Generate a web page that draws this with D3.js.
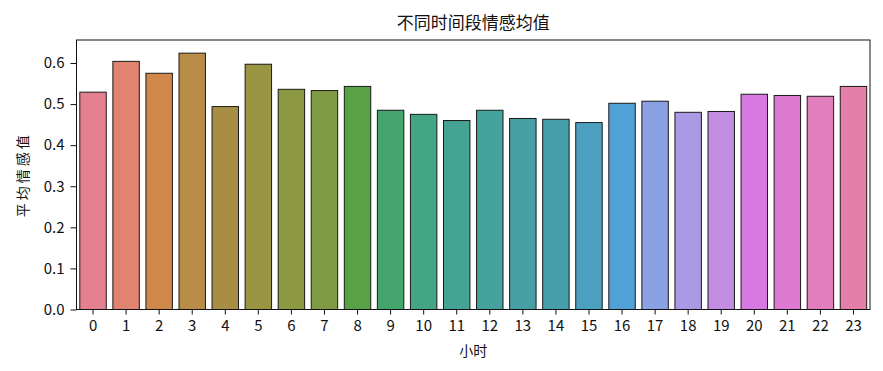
<!doctype html>
<html lang="zh">
<head>
<meta charset="utf-8">
<script src="https://d3js.org/d3.v7.min.js"></script>
<style>
  body { margin: 0; background: #fff; }
  text { font-family: "Noto Sans CJK SC", "DejaVu Sans", sans-serif; fill: #111; }
</style>
</head>
<body>
<div id="chart"></div>
<script>
// hours and mean sentiment per hour
var hours = d3.range(24).map(String);
var values = [0.529, 0.604, 0.575, 0.624, 0.494, 0.597, 0.536, 0.533, 0.543, 0.485, 0.475, 0.460,
              0.485, 0.465, 0.463, 0.455, 0.502, 0.507, 0.480, 0.482, 0.524, 0.521, 0.519, 0.543];
var colors = ["#e5808f", "#e28371", "#d0884a", "#b98c48", "#a88e45", "#9a9543", "#8d9843", "#7f9c44",
              "#58a245", "#43a46c", "#43a583", "#44a392", "#45a29c", "#46a0a4", "#479fac", "#4b9fbf",
              "#51a0d8", "#8aa1e4", "#aa9ae6", "#c18ce2", "#d879e2", "#df7ad2", "#e27dbe", "#e37fa8"];
var yTicks = [0, 0.1, 0.2, 0.3, 0.4, 0.5, 0.6];

var W = 883, H = 371;
var margin = { top: 40, right: 13, bottom: 61.5, left: 76.5 };
var width = W - margin.left - margin.right,
    height = H - margin.top - margin.bottom;

var svg = d3.select("#chart").append("svg")
    .attr("width", W).attr("height", H);
var g = svg.append("g")
    .attr("transform", "translate(" + margin.left + "," + margin.top + ")");

var x = d3.scaleBand().domain(hours).range([0, width]).paddingInner(0.2).paddingOuter(0.1);
var y = d3.scaleLinear().domain([0, 0.656]).range([height, 0]);

// bars
g.selectAll("rect.bar")
    .data(values)
    .enter().append("rect")
    .attr("class", "bar")
    .attr("x", function (d, i) { return x(hours[i]); })
    .attr("y", function (d) { return y(d); })
    .attr("width", x.bandwidth())
    .attr("height", function (d) { return y(0) - y(d); })
    .attr("fill", function (d, i) { return colors[i]; })
    .attr("stroke", "#1a1a1a")
    .attr("stroke-width", 1);

// axes
var xAxis = g.append("g")
    .attr("transform", "translate(0," + height + ")")
    .call(d3.axisBottom(x).tickSize(5).tickPadding(6));
var yAxis = g.append("g")
    .call(d3.axisLeft(y).tickValues(yTicks).tickFormat(d3.format(".1f")).tickSize(6).tickPadding(6));

[xAxis, yAxis].forEach(function (a) {
    a.select(".domain").remove();
    a.selectAll("text").style("font-size", "15px").attr("fill", "#111");
    a.selectAll("line").attr("stroke", "#111");
});

// frame
g.append("rect")
    .attr("width", width).attr("height", height)
    .attr("fill", "none").attr("stroke", "#111").attr("stroke-width", 1);

// labels
svg.append("text")
    .attr("x", margin.left + width / 2).attr("y", 29)
    .attr("text-anchor", "middle").style("font-size", "17px")
    .text("不同时间段情感均值");
svg.append("text")
    .attr("x", margin.left + width / 2).attr("y", 356)
    .attr("text-anchor", "middle").style("font-size", "14px")
    .text("小时");
svg.append("text")
    .attr("transform", "translate(28," + (margin.top + height / 2) + ") rotate(-90)")
    .attr("text-anchor", "middle").style("font-size", "14px").style("letter-spacing", "3px")
    .text("平均情感值");
</script>
</body>
</html>
